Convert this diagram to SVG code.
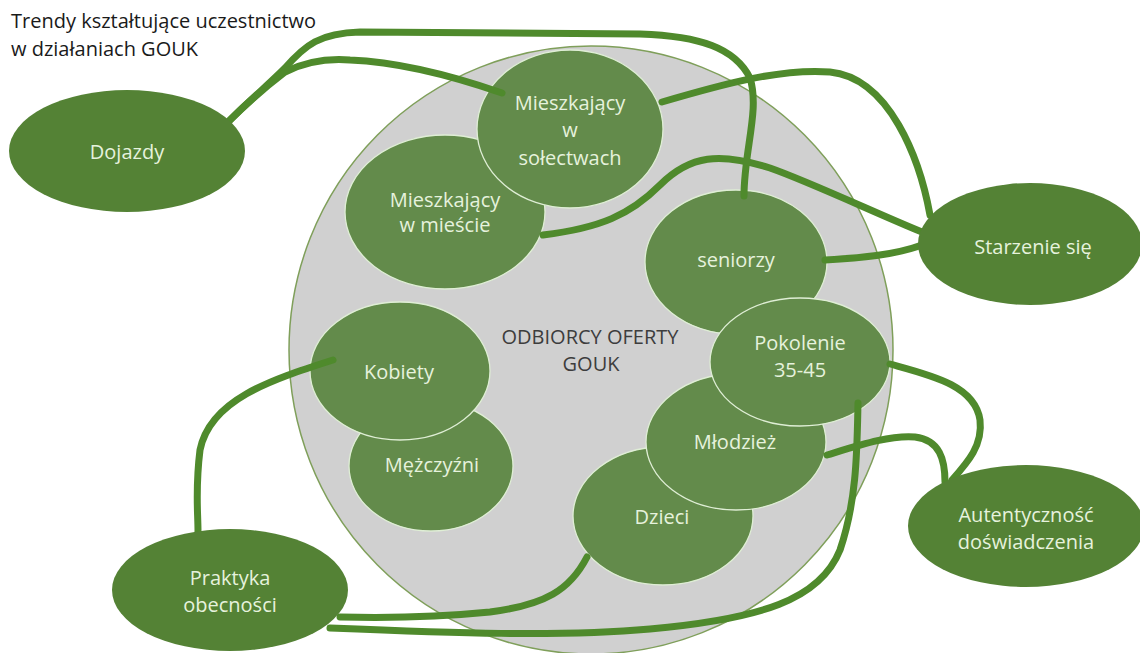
<svg xmlns="http://www.w3.org/2000/svg" width="1140" height="653" viewBox="0 0 1140 653">
<style>
text{font-family:"Open Sans","Liberation Sans",sans-serif;font-size:20px;text-anchor:middle}
.outer{fill:#548235}
.inner{fill:#638b4b;stroke:#dfeed5;stroke-width:1.3}
.lbl{fill:#e6f2dd}
.conn{fill:none;stroke:#4f8a2c;stroke-width:7;stroke-linecap:round}
</style>
<rect width="1140" height="653" fill="#ffffff"/>
<text x="11" y="28" style="text-anchor:start" fill="#1a1a1a">Trendy kształtujące uczestnictwo</text>
<text x="11" y="56" style="text-anchor:start" fill="#1a1a1a">w działaniach GOUK</text>
<g id="odbiorcy">
<ellipse cx="591" cy="350" rx="302" ry="304" fill="#d0d0d0" stroke="#7f9f5a" stroke-width="1.5"/>
<text x="590" y="344" fill="#3d3d3d">ODBIORCY OFERTY</text>
<text x="591" y="371" fill="#3d3d3d">GOUK</text>
</g>
<g id="mieszkajacy-miescie">
<ellipse class="inner" cx="445" cy="212" rx="100" ry="77"/>
<text class="lbl" x="445" y="207">Mieszkający</text>
<text class="lbl" x="445" y="232">w mieście</text>
</g>
<g id="mieszkajacy-solectwach">
<ellipse class="inner" cx="570" cy="129" rx="93" ry="79"/>
<text class="lbl" x="570" y="110">Mieszkający</text>
<text class="lbl" x="570" y="137">w</text>
<text class="lbl" x="570" y="165">sołectwach</text>
</g>
<g id="seniorzy">
<ellipse class="inner" cx="736" cy="262" rx="91" ry="72"/>
<text class="lbl" x="736" y="267">seniorzy</text>
</g>
<g id="mezczyzni">
<ellipse class="inner" cx="431" cy="466" rx="82" ry="65"/>
<text class="lbl" x="432" y="472">Mężczyźni</text>
</g>
<g id="kobiety">
<ellipse class="inner" cx="400" cy="371" rx="90" ry="69"/>
<text class="lbl" x="399" y="379">Kobiety</text>
</g>
<g id="dzieci">
<ellipse class="inner" cx="663" cy="516" rx="90" ry="69"/>
<text class="lbl" x="662" y="524">Dzieci</text>
</g>
<g id="mlodziez">
<ellipse class="inner" cx="736" cy="442" rx="90" ry="68"/>
<text class="lbl" x="735" y="449">Młodzież</text>
</g>
<g id="pokolenie">
<ellipse class="inner" cx="800" cy="362" rx="90" ry="64"/>
<text class="lbl" x="800" y="350">Pokolenie</text>
<text class="lbl" x="800" y="377">35-45</text>
</g>
<g id="connectors">
<path class="conn" d="M 228 122 C 250 100, 268 85, 285 68 C 305 45, 320 33, 360 32 L 640 34 C 700 36, 735 48, 750 78 C 760 110, 744 150, 744 196"/>
<path class="conn" d="M 228 122 C 250 100, 268 85, 285 72 C 305 62, 325 58, 350 60 C 400 62, 450 75, 502 93"/>
<path class="conn" d="M 662 102 C 720 85, 780 68, 830 72 C 890 78, 920 160, 930 215"/>
<path class="conn" d="M 543 235 C 600 228, 630 215, 660 185 C 690 155, 720 152, 770 168 C 810 182, 880 215, 922 232"/>
<path class="conn" d="M 825 260 C 860 258, 895 255, 922 245"/>
<path class="conn" d="M 333 360 C 270 380, 210 400, 200 450 C 195 490, 198 510, 198 532"/>
<path class="conn" d="M 587 557 C 570 590, 545 605, 490 612 C 430 618, 380 618, 340 617"/>
<path class="conn" d="M 330 628 C 450 633, 560 637, 650 629 C 760 619, 820 600, 840 550 C 857 500, 857 450, 858 403"/>
<path class="conn" d="M 827 455 C 860 445, 890 435, 915 437 C 940 440, 945 460, 945 482"/>
<path class="conn" d="M 890 364 C 930 375, 975 385, 980 420 C 983 445, 968 462, 952 480"/>
</g>
<g id="dojazdy">
<ellipse class="outer" cx="127" cy="151" rx="118" ry="61"/>
<text class="lbl" x="127" y="159">Dojazdy</text>
</g>
<g id="starzenie">
<ellipse class="outer" cx="1030" cy="244" rx="112" ry="61"/>
<text class="lbl" x="1033" y="254">Starzenie się</text>
</g>
<g id="autentycznosc">
<ellipse class="outer" cx="1026" cy="526" rx="118" ry="61"/>
<text class="lbl" x="1026" y="522">Autentyczność</text>
<text class="lbl" x="1026" y="549">doświadczenia</text>
</g>
<g id="praktyka">
<ellipse class="outer" cx="230" cy="590" rx="118" ry="61"/>
<text class="lbl" x="230" y="585">Praktyka</text>
<text class="lbl" x="230" y="612">obecności</text>
</g>
</svg>
